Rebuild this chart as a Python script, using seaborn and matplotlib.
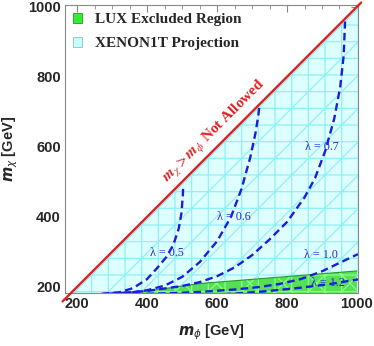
import numpy as np
import matplotlib
matplotlib.use('Agg')
import matplotlib.pyplot as plt
import seaborn as sns
from matplotlib.patches import Patch
from matplotlib.ticker import MultipleLocator

# lambda contours (m_phi, m_chi in GeV)
lam05_phi = [270, 320, 360, 400, 430, 455, 475, 490, 498, 502, 503]
lam05_chi = [180, 184, 196, 222, 255, 285, 320, 365, 410, 460, 490]
lam06_phi = [290, 350, 400, 450, 500, 550, 600, 640, 670, 695, 710, 718, 721]
lam06_chi = [180, 183, 190, 203, 228, 270, 330, 400, 480, 570, 640, 690, 718]
lam07_phi = [300, 400, 500, 550, 600, 650, 700, 750, 800, 850, 880, 910, 935, 952, 962, 966]
lam07_chi = [180, 188, 202, 213, 230, 255, 290, 335, 385, 455, 510, 590, 680, 770, 860, 958]
lam10_phi = [330, 450, 550, 650, 720, 780, 840, 900, 950, 1003]
lam10_chi = [178, 181, 185, 192, 199, 208, 222, 244, 268, 293]
lam12_phi = [450, 550, 646, 740, 837, 920, 1003]
lam12_chi = [176, 177, 180, 187, 197, 207, 221]

# LUX excluded region upper edge
lux_phi = [340, 380, 440, 500, 550, 600, 700, 800, 900, 1000]
lux_chi = [180, 186, 193, 202, 209, 213, 221, 229, 237, 245]

lam_labels = ['λ = 0.5', 'λ = 0.6', 'λ = 0.7', 'λ = 1.0', 'λ = 1.2']
lam_label_pos = [(457, 297), (649, 400), (900, 600), (897, 291), (917, 211)]

xmin, xmax = 165, 1003
ymin, ymax = 182, 1005

sns.set_theme(style='white')
plt.rcParams['font.family'] = ['Liberation Sans', 'DejaVu Sans']
plt.rcParams['hatch.linewidth'] = 0.9

fig = plt.figure(figsize=(3.74, 3.46), dpi=100)
ax = fig.add_axes([65 / 374, 53 / 346, 293 / 374, 288 / 346])

# XENON1T projection: everything below the diagonal
diag = np.array([ymin, xmax])
ax.fill_between(diag, ymin, diag, facecolor='#ddffff', edgecolor='#8ff0f6',
                hatch='+/', linewidth=0, zorder=1)

# LUX excluded region
ax.fill_between(lux_phi, ymin - 10, lux_chi, facecolor='#55e055', edgecolor='#88ff88',
                hatch='+x', linewidth=0, zorder=2)
ax.plot(lux_phi, lux_chi, color='#2a9a2a', lw=0.8, zorder=2)

# dashed contours
blue = '#1c1ce0'
for px, py in [(lam05_phi, lam05_chi), (lam06_phi, lam06_chi), (lam07_phi, lam07_chi),
               (lam10_phi, lam10_chi), (lam12_phi, lam12_chi)]:
    sns.lineplot(x=px, y=py, sort=False, ax=ax, color=blue, lw=1.7,
                 linestyle=(0, (3.2, 1.8)), zorder=4)

for lab, (lx, ly) in zip(lam_labels, lam_label_pos):
    ax.text(lx, ly, lab, color='#2a2ad8', fontsize=8.7, family='Liberation Serif',
            ha='center', va='center', zorder=5)

# m_chi > m_phi boundary
ax.plot([158, 1012], [158, 1012], color='#e02020', lw=1.7, clip_on=False, zorder=6)
ax.text(592, 642, r'$\mathbfit{m}_{\chi} > \mathbfit{m}_{\phi}$ Not Allowed',
        color='#e02020', fontsize=11, family='Liberation Serif', fontweight='bold',
        math_fontfamily='stix', rotation=45, ha='center', va='center', zorder=6)

ax.set_xlim(xmin, xmax)
ax.set_ylim(ymin, ymax)
ax.xaxis.set_major_locator(MultipleLocator(200))
ax.yaxis.set_major_locator(MultipleLocator(200))
ax.xaxis.set_minor_locator(MultipleLocator(50))
ax.yaxis.set_minor_locator(MultipleLocator(50))
ax.tick_params(which='both', direction='in', top=True, right=True, color='#888888')
ax.tick_params(which='major', length=5, width=0.8, labelsize=10.5, pad=3)
ax.tick_params(which='minor', length=3, width=0.6)
for lbl in ax.get_xticklabels() + ax.get_yticklabels():
    lbl.set_fontweight('bold')
for sp in ax.spines.values():
    sp.set_color('#888888')
    sp.set_linewidth(0.8)

ax.set_xlabel(r'$\mathbfit{m}_{\phi}$ [GeV]', fontsize=10.5, fontweight='bold',
              math_fontfamily='dejavusans', labelpad=8)
ax.set_ylabel(r'$\mathbfit{m}_{\chi}$ [GeV]', fontsize=10.5, fontweight='bold',
              math_fontfamily='dejavusans', labelpad=6)

handles = [Patch(facecolor='#33ee33', edgecolor='#229922', lw=0.6),
           Patch(facecolor='#c4ffff', edgecolor='#99bbbb', lw=0.6)]
ax.legend(handles, ['LUX Excluded Region', 'XENON1T Projection'], loc='upper left',
          frameon=False, prop={'family': 'Liberation Serif', 'weight': 'bold', 'size': 11},
          handlelength=0.6, handleheight=0.65, handletextpad=0.85, labelspacing=0.7,
          borderaxespad=0.3, borderpad=0.2)

fig.savefig('out.png', dpi=100)
